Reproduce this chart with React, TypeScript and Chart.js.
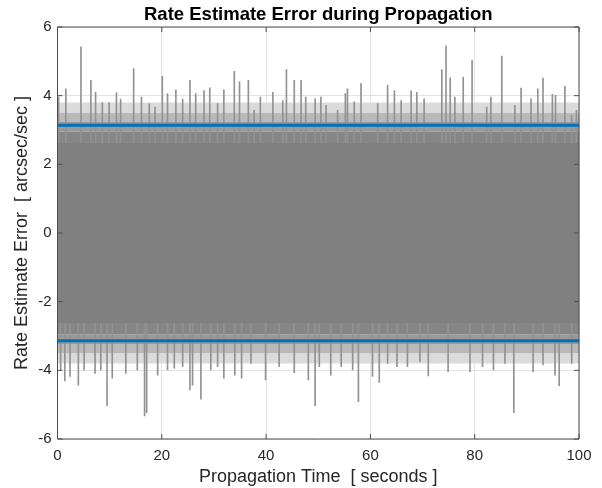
import React, { useEffect, useRef } from "react";
import { Chart, registerables } from "chart.js";

Chart.register(...registerables);

// Axis ticks
const xTicks = [0, 20, 40, 60, 80, 100];
const yTicks = [-6, -4, -2, 0, 2, 4, 6];

// Blue bound lines (±3σ)
const upperBound = 3.14;
const lowerBound = -3.14;

// Dense noise core and fuzzy fringe levels (|value|), with their ink density
const coreTop = 2.62;
const coreBottom = -2.62;
const fringeEdges = [2.62, 2.95, 3.25, 3.5, 3.8];
const fringeAlphas = [0.95, 0.8, 0.55, 0.28];

// Upward spikes: [time s, value]
const topPeaks: [number, number][] = [
  [0.2, 3.96], [1.6, 4.2], [4.5, 5.42], [6.4, 4.45], [7.3, 4.1], [8.6, 3.8], [9.9, 3.8],
  [11.3, 4.08], [12.1, 3.9], [14.6, 4.79], [16.1, 3.96], [17.6, 3.77], [18.7, 3.67],
  [20.1, 4.56], [21.1, 4.06], [22.7, 4.17], [24.0, 3.9], [25.4, 4.45], [26.5, 4.06],
  [28.1, 4.15], [29.2, 4.23], [30.7, 3.77], [31.9, 4.17], [33.9, 4.71], [34.9, 4.4],
  [36.6, 4.45], [37.7, 3.57], [38.9, 3.96], [41.3, 4.1], [43.2, 3.86], [43.9, 4.76],
  [45.4, 4.45], [46.7, 4.45], [47.6, 3.96], [49.4, 3.91], [50.5, 3.96], [51.5, 3.72],
  [53.7, 3.57], [55.2, 4.06], [55.6, 4.2], [56.9, 3.82], [58.2, 4.35], [61.4, 3.77],
  [63.3, 4.3], [64.6, 4.15], [65.9, 3.86], [67.8, 4.14], [68.9, 4.1], [70.3, 3.91],
  [73.7, 4.76], [74.5, 5.45], [75.3, 4.52], [76.2, 3.96], [77.8, 4.54], [79.5, 5.03],
  [82.3, 3.67], [83.1, 3.96], [85.2, 5.15], [87.7, 3.72], [88.9, 4.22], [90.8, 3.91],
  [92.1, 4.2], [93.1, 4.51], [94.9, 4.04], [95.5, 4.01], [97.3, 4.27], [98.6, 3.43],
  [99.5, 3.57],
];

// Downward spikes: [time s, value]
const bottomPeaks: [number, number][] = [
  [0.6, -3.99], [1.4, -4.31], [2.4, -4.18], [4.0, -4.43], [5.1, -3.99], [7.2, -4.09],
  [8.3, -3.99], [9.5, -5.03], [10.5, -4.23], [13.1, -4.09], [15.3, -3.99], [16.7, -5.33],
  [17.1, -5.23], [19.2, -4.14], [21.1, -3.99], [22.4, -3.94], [24.0, -3.89], [25.4, -4.57],
  [25.9, -4.43], [27.5, -4.84], [29.4, -3.99], [30.7, -3.89], [31.9, -4.23], [34.0, -4.14],
  [35.3, -4.23], [37.1, -3.8], [39.9, -4.28], [42.5, -3.89], [45.4, -4.07], [48.1, -4.28],
  [49.4, -5.03], [50.2, -3.89], [52.4, -4.14], [54.4, -3.89], [56.6, -3.99], [57.7, -4.91],
  [60.4, -4.18], [61.7, -4.35], [63.3, -3.8], [65.1, -3.89], [67.1, -3.89], [69.5, -3.75],
  [71.1, -4.16], [74.9, -4.04], [79.1, -4.04], [81.5, -3.89], [83.6, -3.99], [85.8, -3.8],
  [87.5, -5.23], [91.2, -4.04], [93.1, -3.84], [95.4, -4.14], [96.2, -4.45], [98.6, -3.8],
];

const TITLE = "Rate Estimate Error during Propagation";
const FONT = "'Liberation Sans', Arial, Helvetica, sans-serif";
const TXT = "#262626";

const boxPlugin = {
  id: "matlabBox",
  afterDraw(chart: any) {
    const { ctx, chartArea: a, scales } = chart;
    ctx.save();
    ctx.strokeStyle = "#4d4d4d";
    ctx.lineWidth = 1;
    ctx.beginPath();
    ctx.rect(a.left, a.top, a.right - a.left, a.bottom - a.top);
    ctx.stroke();
    ctx.beginPath();
    for (const v of xTicks) {
      const x = scales.x.getPixelForValue(v);
      ctx.moveTo(x, a.bottom);
      ctx.lineTo(x, a.bottom - 5);
      ctx.moveTo(x, a.top);
      ctx.lineTo(x, a.top + 5);
    }
    for (const v of yTicks) {
      const y = scales.y.getPixelForValue(v);
      ctx.moveTo(a.left, y);
      ctx.lineTo(a.left + 5, y);
      ctx.moveTo(a.right, y);
      ctx.lineTo(a.right - 5, y);
    }
    ctx.stroke();
    // title centred over the axes
    ctx.fillStyle = "#000";
    ctx.font = `bold 18.5px ${FONT}`;
    ctx.textAlign = "center";
    ctx.textBaseline = "middle";
    ctx.fillText(TITLE, (a.left + a.right) / 2, 15);
    ctx.restore();
  },
};

function grayOnWhite(alpha: number) {
  const c = Math.round(255 - 127 * alpha);
  return `rgb(${c},${c},${c})`;
}

function band(lo: number, hi: number, color: string, order: number) {
  return {
    type: "line" as const,
    data: [
      { x: 0, y: hi },
      { x: 100, y: hi },
    ],
    fill: { value: lo },
    backgroundColor: color,
    borderWidth: 0,
    pointRadius: 0,
    order,
  };
}

function hLine(v: number) {
  return {
    type: "line" as const,
    data: [
      { x: 0, y: v },
      { x: 100, y: v },
    ],
    borderColor: "#0072BD",
    borderWidth: 3,
    pointRadius: 0,
    fill: false,
    order: 0,
  };
}

export default function App() {
  const ref = useRef<HTMLCanvasElement | null>(null);
  useEffect(() => {
    document.body.style.margin = "0";
    if (!ref.current) return;
    const spikes = [
      ...topPeaks.map(([t, v]) => ({ x: t, y: [coreTop, v] })),
      ...bottomPeaks.map(([t, v]) => ({ x: t, y: [coreBottom, v] })),
    ].sort((a, b) => a.x - b.x);
    const fringe: any[] = [];
    fringeAlphas.forEach((al, i) => {
      const c = grayOnWhite(al);
      fringe.push(band(fringeEdges[i], fringeEdges[i + 1], c, 4));
      fringe.push(band(-fringeEdges[i + 1], -fringeEdges[i], c, 4));
    });
    const chart = new Chart(ref.current, {
      type: "bar",
      data: {
        datasets: [
          {
            type: "bar",
            data: spikes as any,
            backgroundColor: "#929292",
            barThickness: 1,
            grouped: false,
            order: 3,
          } as any,
          ...fringe,
          band(coreBottom, coreTop, "#808080", 2),
          hLine(upperBound),
          hLine(lowerBound),
        ] as any,
      },
      options: {
        responsive: false,
        animation: false,
        layout: { padding: { left: 0, right: 23, top: 27, bottom: 0 } },
        plugins: {
          legend: { display: false },
          tooltip: { enabled: false },
          title: { display: false },
        },
        scales: {
          x: {
            type: "linear",
            min: 0,
            max: 100,
            offset: false,
            afterBuildTicks: (s: any) => {
              s.ticks = xTicks.map((v) => ({ value: v }));
            },
            afterFit: (s: any) => {
              s.height = 49;
            },
            grid: { color: "#e3e3e3", drawTicks: false, offset: false },
            border: { display: false },
            ticks: { color: TXT, font: { family: FONT, size: 15 }, padding: 8, maxRotation: 0 },
            title: {
              display: true,
              text: "Propagation Time  [ seconds ]",
              color: TXT,
              font: { family: FONT, size: 18 },
              padding: { top: 0, bottom: 0.5 },
            },
          },
          y: {
            type: "linear",
            min: -6,
            max: 6,
            afterBuildTicks: (s: any) => {
              s.ticks = yTicks.map((v) => ({ value: v }));
            },
            afterFit: (s: any) => {
              s.width = 57.5;
            },
            grid: { color: "#e3e3e3", drawTicks: false },
            border: { display: false },
            ticks: { color: TXT, font: { family: FONT, size: 15 }, padding: 6 },
            title: {
              display: true,
              text: "Rate Estimate Error  [ arcsec/sec ]",
              color: TXT,
              font: { family: FONT, size: 18 },
              padding: { top: 11, bottom: 0 },
            },
          },
        },
      },
      plugins: [boxPlugin],
    } as any);
    return () => chart.destroy();
  }, []);
  return <canvas ref={ref} width={602} height={488} style={{ display: "block" }} />;
}
